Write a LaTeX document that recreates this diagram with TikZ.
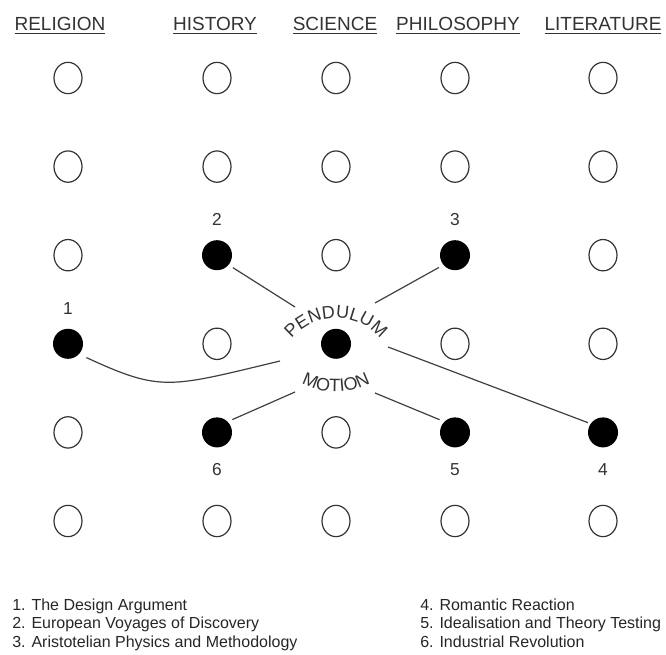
\documentclass[tikz,border=0pt]{standalone}
\usepackage{fontspec}
\setmainfont{Liberation Sans}
\usetikzlibrary{shapes.geometric,decorations.text}
\begin{document}
\begin{tikzpicture}[x=0.75pt,y=0.75pt,
  open/.style={draw=black!80, line width=0.9pt, ellipse, minimum width=21pt, minimum height=23.5pt, inner sep=0pt},
  full/.style={fill=black, circle, minimum size=22.5pt, inner sep=0pt},
  head/.style={font=\fontsize{14.25pt}{16pt}\selectfont, text=black!80, anchor=base, inner sep=0pt},
  num/.style={font=\fontsize{13pt}{15pt}\selectfont, text=black!80, anchor=base, inner sep=0pt},
  legend/.style={font=\fontsize{12pt}{14pt}\selectfont, text=black!85, anchor=base west, inner sep=0pt},
  link/.style={draw=black!75, line width=0.9pt},
]
\useasboundingbox (0,0) rectangle (666,-655);

% headers
\node[head] (hrel) at (60,-31) {\underline{RELIGION}};
\node[head] (hhis) at (215,-31) {\underline{HISTORY}};
\node[head] (hsci) at (335,-31) {\underline{SCIENCE}};
\node[head] (hphi) at (458,-31) {\underline{PHILOSOPHY}};
\node[head] (hlit) at (603,-31) {\underline{LITERATURE}};

% open circles
\foreach \r/\y in {1/78,2/166.6,6/521}{
  \foreach \c/\x in {1/68,2/217,3/336,4/455,5/603}
    \node[open] (o\c\r) at (\x,-\y) {};
}
\foreach \c/\x in {1/68,3/336,5/603} \node[open] (o\c3) at (\x,-255.2) {};
\foreach \c/\x in {2/217,4/455,5/603} \node[open] (o\c4) at (\x,-343.8) {};
\foreach \c/\x in {1/68,3/336} \node[open] (o\c5) at (\x,-432.4) {};

% filled circles
\node[full] (n1) at (68,-343.8) {};
\node[full] (n2) at (217,-255.2) {};
\node[full] (n3) at (455,-255.2) {};
\node[full] (nc) at (336,-343.8) {};
\node[full] (n4) at (603,-432.4) {};
\node[full] (n5) at (455,-432.4) {};
\node[full] (n6) at (217,-432.4) {};

% numbers
\node[num] (l1) at (68,-314.5) {1};
\node[num] (l2) at (217,-226) {2};
\node[num] (l3) at (455,-226) {3};
\node[num] (l4) at (603,-475.5) {4};
\node[num] (l5) at (455,-475.5) {5};
\node[num] (l6) at (217,-475.5) {6};

% arched labels
\path[decorate, decoration={text along path, text align=center, text color=black!80,
  text={|\fontsize{13.5pt}{15pt}\selectfont|PENDULUM}}]
  (336,-376) ++(160:58) arc[start angle=160, end angle=20, radius=58];
\path[decorate, decoration={text along path, text align=center, text color=black!80,
  text={|\fontsize{13.5pt}{15pt}\selectfont|MOTION}}]
  (336,-318) ++(225:74) arc[start angle=225, end angle=315, radius=74];

% connector ends
\coordinate (e1) at (280,-361);
\coordinate (e2) at (295,-307);
\coordinate (e3) at (375,-303);
\coordinate (e4) at (388,-347);
\coordinate (e5) at (375,-393);
\coordinate (e6) at (295,-392);

\draw[link, shorten <=3.75pt] (n2.-40) -- (e2);
\draw[link, shorten <=3.75pt] (n3.-140) -- (e3);
\draw[link, shorten >=2pt] (e4) -- (n4.145);
\draw[link, shorten <=3.75pt] (n5.135) -- (e5);
\draw[link, shorten <=3.75pt] (n6.45) -- (e6);
\draw[link, shorten <=6pt] (n1.-43) .. controls (161.6,-392.4) and (169.4,-387.5) .. (e1);

% legend
\node[legend] (t1) at (12,-610) {1. The Design Argument};
\node[legend] (t2) at (12,-628.5) {2. European Voyages of Discovery};
\node[legend] (t3) at (12,-647) {3. Aristotelian Physics and Methodology};
\node[legend] (t4) at (420,-610) {4. Romantic Reaction};
\node[legend] (t5) at (420,-628.5) {5. Idealisation and Theory Testing};
\node[legend] (t6) at (420,-647) {6. Industrial Revolution};
\end{tikzpicture}
\end{document}
